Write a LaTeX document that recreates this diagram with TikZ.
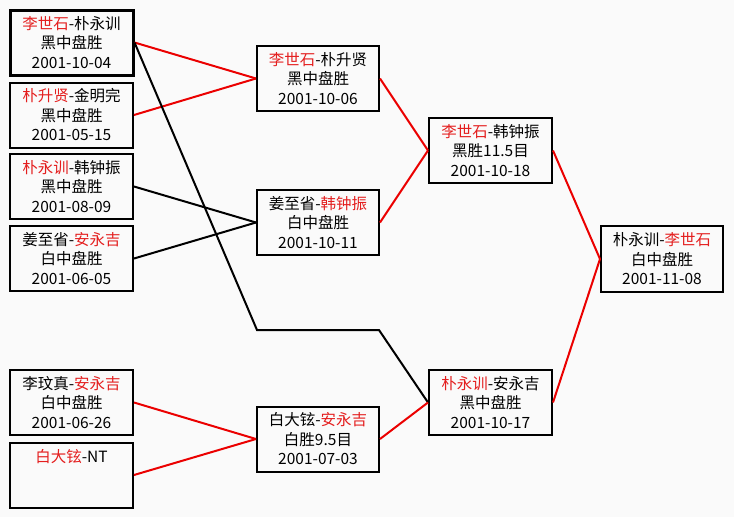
\documentclass[tikz,border=0pt]{standalone}
\usepackage{fontspec}
\setmainfont{Noto Sans CJK SC}
\definecolor{txtred}{RGB}{228,30,30}
\definecolor{linered}{RGB}{235,0,0}
\definecolor{bg}{RGB}{250,250,250}
\newcommand{\rd}[1]{\textcolor{txtred}{#1}}
\begin{document}
\begin{tikzpicture}[x=1pt,y=-1pt,
  gamebox/.style={draw=black,line width=2pt,minimum width=123pt,minimum height=65pt,
    inner sep=0pt,align=center,font=\fontsize{15.5}{19.5}\selectfont},
  win/.style={draw=linered,line width=2pt},
  lose/.style={draw=black,line width=2pt}]
\fill[bg] (0,0) rectangle (734,517);
\useasboundingbox (0,0) rectangle (734,517);
% first column
\node[gamebox,line width=3pt] (a1) at (71.5,42.5) {\rd{李世石}-朴永训\\黑中盘胜\\2001-10-04};
\node[gamebox] (a2) at (71.5,115) {\rd{朴升贤}-金明完\\黑中盘胜\\2001-05-15};
\node[gamebox] (a3) at (71.5,186.5) {\rd{朴永训}-韩钟振\\黑中盘胜\\2001-08-09};
\node[gamebox] (a4) at (71.5,258.5) {姜至省-\rd{安永吉}\\白中盘胜\\2001-06-05};
\node[gamebox] (a5) at (71.5,402.5) {李玟真-\rd{安永吉}\\白中盘胜\\2001-06-26};
\node[gamebox] (a6) at (71.5,475) {\rd{白大铉}-NT\\\mbox{}\\\mbox{}};
% second column
\node[gamebox,minimum width=122pt] (b1) at (318,78.5) {\rd{李世石}-朴升贤\\黑中盘胜\\2001-10-06};
\node[gamebox,minimum width=122pt] (b2) at (318,222.5) {姜至省-\rd{韩钟振}\\白中盘胜\\2001-10-11};
\node[gamebox,minimum width=122pt] (b3) at (318,439) {白大铉-\rd{安永吉}\\白胜9.5目\\2001-07-03};
% third column
\node[gamebox] (c1) at (490.5,150.5) {\rd{李世石}-韩钟振\\黑胜11.5目\\2001-10-18};
\node[gamebox] (c2) at (490.5,402.5) {\rd{朴永训}-安永吉\\黑中盘胜\\2001-10-17};
% final
\node[gamebox,minimum width=122pt,minimum height=66pt] (d) at (662,259) {朴永训-\rd{李世石}\\白中盘胜\\2001-11-08};
% bend points
\coordinate (k1) at (257,330);
\coordinate (k2) at (379,330);
% connectors
\draw[win] (a1.east) -- (b1.west);
\draw[win] (a2.east) -- (b1.west);
\draw[lose] (a3.east) -- (b2.west);
\draw[lose] (a4.east) -- (b2.west);
\draw[lose,line join=miter] (a1.east) -- (k1) -- (k2) -- (c2.west);
\draw[win] (a5.east) -- (b3.west);
\draw[win] (a6.east) -- (b3.west);
\draw[win] (b1.east) -- (c1.west);
\draw[win] (b2.east) -- (c1.west);
\draw[win] (b3.east) -- (c2.west);
\draw[win] (c1.east) -- (d.west);
\draw[win] (c2.east) -- (d.west);
\end{tikzpicture}
\end{document}
